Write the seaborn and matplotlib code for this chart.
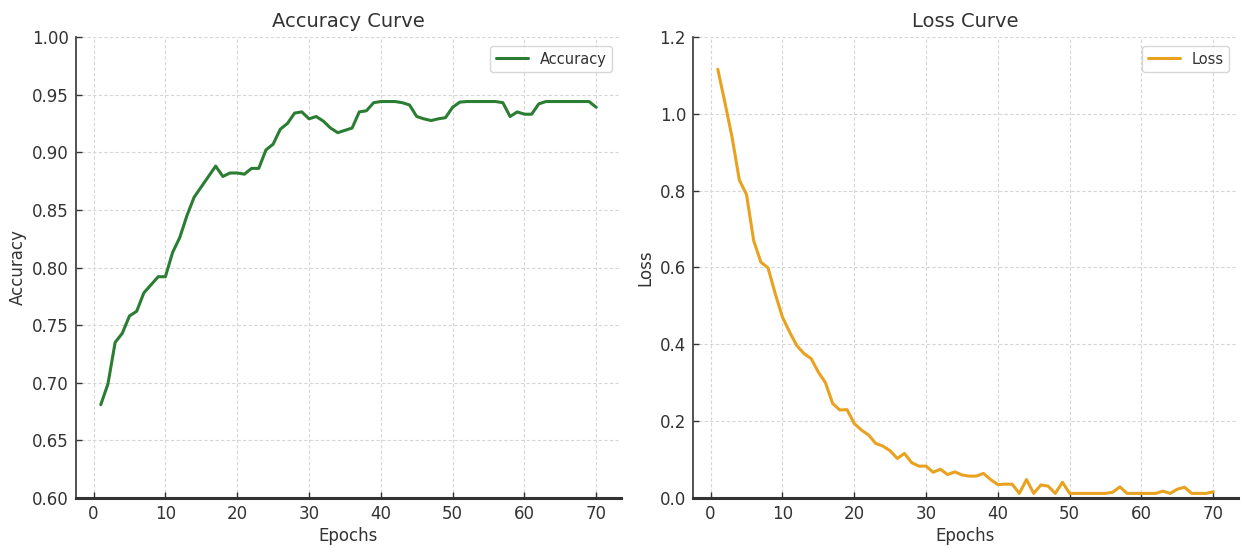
import numpy as np
import pandas as pd
import matplotlib
matplotlib.use("Agg")
import matplotlib.pyplot as plt
import seaborn as sns

epochs = list(range(1, 71))
accuracy = [0.681, 0.699, 0.735, 0.743, 0.758, 0.762, 0.778, 0.785, 0.792, 0.792,
            0.813, 0.826, 0.845, 0.861, 0.870, 0.879, 0.888, 0.879, 0.882, 0.882,
            0.881, 0.886, 0.886, 0.902, 0.907, 0.920, 0.925, 0.934, 0.935, 0.929,
            0.931, 0.927, 0.921, 0.917, 0.919, 0.921, 0.935, 0.936, 0.943, 0.944,
            0.944, 0.944, 0.943, 0.941, 0.931, 0.929, 0.9275, 0.929, 0.930, 0.939,
            0.9435, 0.944, 0.944, 0.944, 0.944, 0.944, 0.943, 0.931, 0.935, 0.933,
            0.933, 0.942, 0.944, 0.944, 0.944, 0.944, 0.944, 0.944, 0.944, 0.939]
loss = [1.116, 1.029, 0.938, 0.828, 0.790, 0.670, 0.614, 0.599, 0.532, 0.471,
        0.432, 0.397, 0.376, 0.363, 0.328, 0.300, 0.246, 0.229, 0.230, 0.194,
        0.177, 0.164, 0.142, 0.135, 0.123, 0.103, 0.116, 0.092, 0.083, 0.083,
        0.067, 0.075, 0.061, 0.068, 0.060, 0.057, 0.057, 0.064, 0.048, 0.035,
        0.036, 0.036, 0.012, 0.048, 0.012, 0.034, 0.031, 0.012, 0.041, 0.012,
        0.012, 0.012, 0.012, 0.012, 0.012, 0.015, 0.029, 0.012, 0.012, 0.012,
        0.012, 0.012, 0.018, 0.012, 0.023, 0.028, 0.012, 0.012, 0.012, 0.016]

df = pd.DataFrame({"Epochs": epochs, "Accuracy": accuracy, "Loss": loss})

sns.set_theme(style="ticks")
plt.rcParams['font.family'] = ['DejaVu Sans']

fig = plt.figure(figsize=(12.44, 5.48), dpi=100)
# pixel-based placement: left, bottom, width, height
ax1 = fig.add_axes([76 / 1244, 50 / 548, 545 / 1244, 461 / 548])
ax2 = fig.add_axes([693 / 1244, 50 / 548, 545 / 1244, 461 / 548])

sns.lineplot(data=df, x="Epochs", y="Accuracy", ax=ax1, color="#2b7d34",
             linewidth=2.2, label="Accuracy")
sns.lineplot(data=df, x="Epochs", y="Loss", ax=ax2, color="#e8a21f",
             linewidth=2.2, label="Loss")

ax1.set_ylim(0.6, 1.0)
ax1.set_yticks(np.arange(0.60, 1.001, 0.05))
ax2.set_ylim(0.0, 1.2)
ax2.set_yticks(np.arange(0.0, 1.201, 0.2))

for ax, title in [(ax1, "Accuracy Curve"), (ax2, "Loss Curve")]:
    ax.set_title(title, fontsize=14, color="#333333", pad=7)
    ax.set_xticks([0, 10, 20, 30, 40, 50, 60, 70])
    ax.grid(True, linestyle=(0, (3, 2)), color="#d6d6d6", linewidth=0.8)
    ax.set_axisbelow(True)
    ax.tick_params(labelsize=12, colors="#333333", length=4, width=1,
                   direction="in", pad=5)
    ax.xaxis.label.set_size(12)
    ax.yaxis.label.set_size(12)
    ax.xaxis.label.set_color("#333333")
    ax.yaxis.label.set_color("#333333")
    ax.xaxis.labelpad = 3
    ax.yaxis.labelpad = 4
    for s in ["top", "right"]:
        ax.spines[s].set_visible(False)
    ax.spines["left"].set_color("#444444")
    ax.spines["left"].set_linewidth(1.3)
    ax.spines["bottom"].set_color("#333333")
    ax.spines["bottom"].set_linewidth(2.2)
    leg = ax.legend(loc="upper right", fontsize=10.5, frameon=True,
                    handlelength=2.2, borderaxespad=0.6)
    leg.get_frame().set_edgecolor("#cccccc")
    for t in leg.get_texts():
        t.set_color("#333333")

fig.savefig("out.png", dpi=100)
